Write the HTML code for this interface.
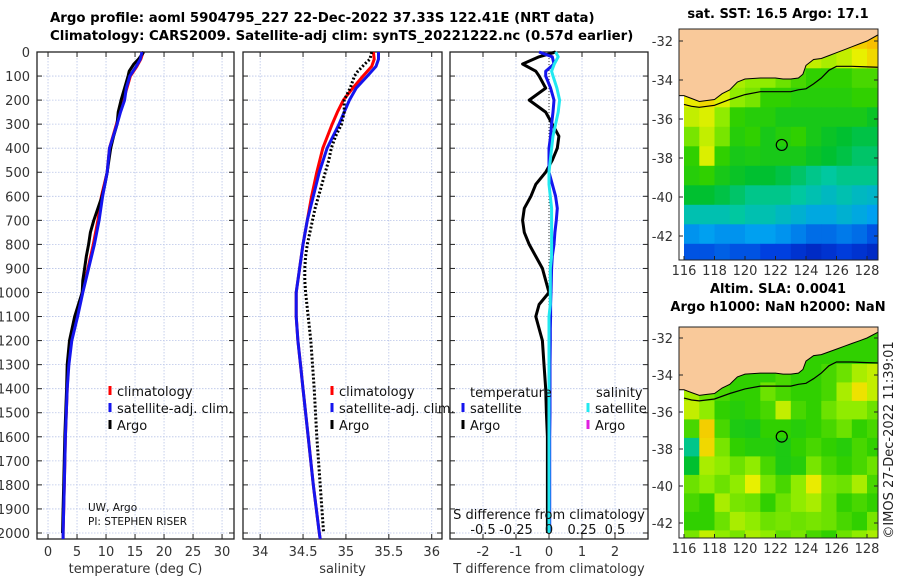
<!DOCTYPE html>
<html><head><meta charset="utf-8"><style>
body{margin:0;background:#fff;width:900px;height:580px;overflow:hidden;font-family:"Liberation Sans","DejaVu Sans",sans-serif}
svg text{font-family:"DejaVu Sans","Liberation Sans",sans-serif}
</style></head><body>
<svg id="fig" width="900" height="580" viewBox="0 0 900 580" xmlns="http://www.w3.org/2000/svg">
<text x="50" y="22" font-size="13.3" font-weight="bold" fill="#000">Argo profile: aoml 5904795_227 22-Dec-2022 37.33S 122.41E (NRT data)</text>
<text x="50" y="40" font-size="13.3" font-weight="bold" fill="#000">Climatology: CARS2009. Satellite-adj clim: synTS_20221222.nc (0.57d earlier)</text>
<text x="778" y="18" font-size="13" font-weight="bold" text-anchor="middle">sat. SST: 16.5 Argo: 17.1</text>
<text x="778" y="293" font-size="13" font-weight="bold" text-anchor="middle">Altim. SLA: 0.0041</text>
<text x="778" y="311" font-size="13" font-weight="bold" text-anchor="middle">Argo h1000: NaN h2000: NaN</text>
<text transform="translate(893,440) rotate(-90)" font-size="13" text-anchor="middle" fill="#222">©IMOS 27-Dec-2022 11:39:01</text>
<g id="g"></g>
</svg>
<script>
// ---- profile data ----
const tDepth = [0,30,60,100,150,200,250,300,400,500,600,700,800,900,1000,1100,1200,1300,1400,1600,1800,2000,2025];
const tClim  = [16.4,16,15.3,14.2,13.6,13.0,12.4,11.8,10.6,10.2,9.2,8.6,7.8,6.9,5.9,5.0,4.0,3.5,3.3,3.0,2.8,2.6,2.6];
const tSat   = [16.2,15.9,15.2,14.1,13.5,13.2,12.5,11.9,10.6,10.2,9.4,8.8,8.0,7.0,6.0,5.1,4.1,3.6,3.3,3.0,2.8,2.6,2.6];
const argoDepth = [0,30,50,80,100,150,200,250,300,350,400,450,500,550,600,650,700,750,800,850,900,950,1000,1100,1200,1300,1400,1600,1800,2000];
const tArgo  = [16.5,15.6,14.8,14.0,13.8,13.2,12.6,12.1,11.9,11.3,10.8,10.5,10.2,9.8,9.3,8.6,7.9,7.3,7.0,6.6,6.3,6.0,5.9,4.6,3.7,3.3,3.2,2.9,2.7,2.5];
const sClim  = [35.32,35.33,35.3,35.2,35.08,34.97,34.9,34.84,34.73,34.66,34.6,34.55,34.5,34.46,34.42,34.42,34.44,34.47,34.5,34.56,34.62,34.69,34.7];
const sSat   = [35.38,35.38,35.35,35.25,35.12,35.04,34.98,34.92,34.78,34.69,34.62,34.55,34.5,34.46,34.42,34.42,34.44,34.47,34.5,34.56,34.62,34.69,34.7];
const sArgo  = [35.3,35.28,35.22,35.14,35.1,35.05,34.98,34.98,34.95,34.88,34.83,34.8,34.76,34.72,34.68,34.64,34.61,34.58,34.55,34.53,34.52,34.52,34.53,34.56,34.59,34.61,34.63,34.66,34.7,34.74];
// ---- difference data ----
const dDepth = [0,20,50,80,100,150,200,250,300,350,400,450,500,550,600,650,700,750,800,850,900,950,1000,1050,1100,1150,1200,1300,1400,1500,1600,1800,2000];
const dTArgo = [0.2,-0.3,-0.8,-0.4,-0.3,-0.1,-0.6,-0.1,0.1,0.3,0.25,0.1,-0.1,-0.4,-0.55,-0.75,-0.8,-0.75,-0.6,-0.4,-0.2,-0.1,0,-0.3,-0.4,-0.3,-0.2,-0.15,-0.1,-0.08,-0.05,-0.05,-0.05];
const dTSat  = [-0.3,0.1,0.15,-0.1,-0.1,0.05,0.15,0.12,0.08,0.05,0.0,0.0,0.0,0.1,0.2,0.25,0.22,0.18,0.15,0.1,0.08,0.07,0.06,0.05,0.05,0.04,0.04,0.03,0.03,0.03,0.02,0.02,0.02];
const dSSat  = [0.05,0.07,0.04,0.02,0.03,0.06,0.08,0.07,0.05,0.03,0.02,0.01,0.0,0.0,0.01,0.02,0.02,0.02,0.02,0.02,0.01,0.01,0.01,0.01,0.0,0.0,0.0,0.0,0.0,0.0,0.0,0.0,0.0];
const depthTicks = [0,100,200,300,400,500,600,700,800,900,1000,1100,1200,1300,1400,1500,1600,1700,1800,1900,2000];
const tTicks = [0,5,10,15,20,25,30];
const sTicks = [34,34.5,35,35.5,36];
const sTickLabels = ["34","34.5","35","35.5","36"];
const dTTicks = [-2,-1,0,1,2];
const dSTicks = [-0.5,-0.25,0,0.25,0.5];
const dSTickLabels = ["-0.5","-0.25","0","0.25","0.5"];
// ---- map data ----
const lonTicks = [116,118,120,122,124,126,128];
const latTicks = [-32,-34,-36,-38,-40,-42];
const coastLon = [116,116.5,117,117.5,118,118.5,119,119.5,120,121,122,122.5,123,123.5,123.8,124,124.5,125,125.5,126,126.5,127,127.5,128,128.8];
const coastLat = [-34.8,-34.95,-35.1,-35.05,-35.0,-34.7,-34.5,-34.1,-33.95,-33.9,-33.9,-33.95,-33.95,-33.9,-33.7,-33.25,-32.95,-32.9,-32.75,-32.6,-32.45,-32.3,-32.15,-32.0,-31.65];
const isoLon = [116,116.5,117,118,119,120,121,122,123,123.5,124,124.5,125,125.5,126,126.5,127,128,128.8];
const isoLat = [-35.25,-35.35,-35.4,-35.3,-35.0,-34.75,-34.6,-34.6,-34.6,-34.5,-34.45,-34.2,-33.9,-33.5,-33.3,-33.3,-33.3,-33.33,-33.35];
const argoLon = 122.41, argoLat = -37.33;
const gridLon0 = 116, gridLat0 = -31.4;
const sstGrid = [
 [.75,.75,.75,.75,.75,.75,.75,.75,.75,.78,.8,.82,.85],
 [.75,.75,.75,.75,.75,.75,.75,.75,.72,.7,.72,.75,.8],
 [.75,.75,.72,.7,.68,.68,.65,.62,.6,.6,.6,.62,.62],
 [.76,.8,.74,.68,.66,.6,.6,.58,.58,.58,.58,.6,.6],
 [.72,.74,.68,.6,.58,.58,.55,.55,.55,.55,.55,.55,.52],
 [.66,.72,.66,.58,.6,.55,.58,.6,.55,.52,.5,.48,.48],
 [.6,.74,.6,.55,.56,.55,.55,.55,.52,.5,.48,.45,.45],
 [.58,.6,.55,.52,.5,.5,.48,.45,.42,.4,.42,.42,.42],
 [.5,.5,.48,.45,.42,.42,.42,.4,.38,.36,.38,.36,.35],
 [.38,.38,.38,.4,.38,.38,.36,.34,.32,.32,.34,.32,.3],
 [.28,.3,.28,.28,.3,.3,.28,.25,.22,.22,.24,.22,.18],
 [.18,.18,.2,.18,.18,.15,.15,.12,.1,.12,.14,.12,.1]];
const slaGrid = [
 [.6,.6,.6,.6,.6,.6,.6,.6,.6,.6,.6,.6,.6],
 [.6,.6,.6,.6,.6,.6,.6,.6,.6,.6,.6,.6,.6],
 [.65,.62,.6,.6,.6,.6,.62,.6,.6,.62,.65,.7,.72],
 [.7,.65,.62,.6,.6,.65,.62,.6,.6,.62,.7,.78,.72],
 [.72,.68,.6,.58,.6,.62,.72,.62,.6,.65,.68,.68,.65],
 [.62,.82,.62,.56,.55,.6,.6,.58,.6,.62,.65,.6,.62],
 [.42,.8,.66,.6,.58,.58,.56,.6,.62,.6,.58,.62,.6],
 [.5,.7,.68,.65,.68,.62,.56,.58,.66,.62,.6,.62,.65],
 [.65,.68,.65,.68,.75,.66,.62,.68,.76,.66,.65,.7,.62],
 [.62,.6,.7,.66,.65,.6,.65,.68,.7,.65,.6,.62,.6],
 [.6,.6,.65,.7,.68,.65,.66,.65,.66,.65,.62,.6,.66],
 [.66,.72,.68,.66,.7,.68,.64,.66,.62,.6,.65,.68,.7]];

const NS='http://www.w3.org/2000/svg';
const root=document.getElementById('g');
function el(tag,attrs,parent,txt){const e=document.createElementNS(NS,tag);for(const k in attrs)e.setAttribute(k,attrs[k]);if(txt!==undefined)e.textContent=txt;(parent||root).appendChild(e);return e;}
const TOP=52,BOT=539,D0=0,D1=2025;
const yD=d=>TOP+(d-D0)/(D1-D0)*(BOT-TOP);
function lin(d0,d1,r0,r1){return v=>r0+(v-d0)/(d1-d0)*(r1-r0);}

function panel(name,x0,x1,xs,ticks,labels,xtitle,showDepth){
  const g=el('g',{});
  
  
  ticks.forEach(t=>{const l=el('line',{x1:xs(t),x2:xs(t),y1:TOP,y2:BOT,stroke:'#b8c4e8','stroke-width':0.8,'stroke-dasharray':'1.5,1.5'},g);});
  depthTicks.forEach(d=>{const l=el('line',{x1:x0,x2:x1,y1:yD(d),y2:yD(d),stroke:'#b8c4e8','stroke-width':0.8,'stroke-dasharray':'1.5,1.5'},g);
    el('line',{x1:x0,x2:x0+5,y1:yD(d),y2:yD(d),stroke:'#222'},g);el('line',{x1:x1-5,x2:x1,y1:yD(d),y2:yD(d),stroke:'#222'},g);
    if(showDepth){const t=el('text',{x:x0-7,y:yD(d)+5,'font-size':13,'text-anchor':'end',fill:'#333'},g,String(d));}});
  ticks.forEach((t,i)=>{el('line',{x1:xs(t),x2:xs(t),y1:BOT,y2:BOT-5,stroke:'#222'},g);el('line',{x1:xs(t),x2:xs(t),y1:TOP,y2:TOP+5,stroke:'#222'},g);
    if(labels){const tx=el('text',{x:xs(t),y:556,'font-size':13,'text-anchor':'middle',fill:'#333'},g,labels[i]);}});
  el('rect',{x:x0,y:TOP,width:x1-x0,height:BOT-TOP,fill:'none',stroke:'#222','stroke-width':1.3},g);
  const tt=el('text',{x:(x0+x1)/2,y:573,'font-size':13,'text-anchor':'middle',fill:'#333'},g,xtitle);
  
  return g;
}
function line(xs,xv,dv,color,w,name,dash){
  const pts=xv.map((v,i)=>xs(v).toFixed(1)+','+yD(dv[i]).toFixed(1)).join(' ');
  const p=el('polyline',{points:pts,fill:'none',stroke:color,'stroke-width':w,'stroke-linejoin':'round'});
  if(dash)p.setAttribute('stroke-dasharray',dash);
  
}
function legend(x,y,color,label,name){
  const g=el('g',{});
  el('line',{x1:x,x2:x,y1:y-10,y2:y-1,stroke:color,'stroke-width':3},g);
  el('text',{x:x+7,y:y,'font-size':13,fill:'#111'},g,label);
}
// panel 1 temperature
const xT=lin(-1.9,32.06,37,234);
panel('temperature-panel',37,234,xT,tTicks,tTicks.map(String),'temperature (deg C)',true);
line(xT,tClim,tDepth,'#f00',3,'temp-climatology-line');
line(xT,tArgo,argoDepth,'#000',3,'temp-argo-line');
line(xT,tSat,tDepth,'#1515ee',3,'temp-satellite-line');
legend(110,396,'#f00','climatology','legend-climatology');
legend(110,413,'#1515ee','satellite-adj. clim.','legend-satellite');
legend(110,430,'#000','Argo','legend-argo');
el('text',{x:88,y:511,'font-size':10.5,fill:'#111'},null,'UW, Argo');
el('text',{x:88,y:525,'font-size':10.5,fill:'#111'},null,'PI: STEPHEN RISER');
// panel 2 salinity
const xS=lin(33.8,36.12,243,442);
panel('salinity-panel',243,442,xS,sTicks,sTickLabels,'salinity',false);
line(xS,sClim,tDepth,'#f00',3,'sal-climatology-line');
line(xS,sSat,tDepth,'#1515ee',3,'sal-satellite-line');
line(xS,sArgo,argoDepth,'#000',3,'sal-argo-line','2,2');
legend(332,396,'#f00','climatology','legend-climatology-s');
legend(332,413,'#1515ee','satellite-adj. clim.','legend-satellite-s');
legend(332,430,'#000','Argo','legend-argo-s');
// panel 3 differences
const xDT=lin(-3,3,450,648), xDS=lin(-0.75,0.75,450,648);
panel('difference-panel',450,648,xDT,dTTicks,dTTicks.map(String),'T difference from climatology',false);
el('line',{x1:xDT(0),x2:xDT(0),y1:TOP,y2:BOT,stroke:'#333','stroke-width':1,'stroke-dasharray':'1,2'});
line(xDT,dTArgo,dDepth,'#000',3,'tdiff-argo-line');
line(xDT,dTSat,dDepth,'#1515ee',3,'tdiff-satellite-line');
line(xDS,dSSat,dDepth,'#22e8f0',3,'sdiff-satellite-line');
el('text',{x:470,y:397,'font-size':13,fill:'#111'},null,'temperature');
el('text',{x:596,y:397,'font-size':13,fill:'#111'},null,'salinity');
legend(463,413,'#1515ee','satellite','legend-t-satellite');
legend(463,430,'#000','Argo','legend-t-argo');
legend(588,413,'#22e8f0','satellite','legend-s-satellite');
legend(588,430,'#e020e0','Argo','legend-s-argo');
el('text',{x:549,y:519,'font-size':13,'text-anchor':'middle',fill:'#111'},null,'S difference from climatology');
dSTicks.forEach((t,i)=>{const tx=el('text',{x:xDS(t),y:534,'font-size':13,'text-anchor':'middle',fill:'#111'},null,dSTickLabels[i]);});

// maps
const stops=[[0,[0,0,144]],[.15,[0,64,224]],[.3,[0,160,240]],[.4,[0,200,160]],[.5,[0,192,48]],[.6,[48,208,0]],[.68,[144,236,0]],[.75,[232,240,0]],[.85,[248,192,0]],[1,[240,128,0]]];
function cmap(v){for(let i=1;i<stops.length;i++){if(v<=stops[i][0]){const a=stops[i-1],b=stops[i],f=(v-a[0])/(b[0]-a[0]);return 'rgb('+a[1].map((c,k)=>Math.round(c+f*(b[1][k]-c))).join(',')+')';}}return 'rgb(240,128,0)';}
function map(name,top,bot,y32,y42,grid){
  const X0=679,X1=878;
  const xl=lin(116,128,684,867), ylat=lin(-32,-42,y32,y42);
  const g=el('g',{});
  const cid='clip'+name;const cp=el('clipPath',{id:cid},g);el('rect',{x:X0,y:top,width:X1-X0,height:bot-top},cp);
  const cells=el('g',{'clip-path':'url(#'+cid+')'},g);
  grid.forEach((row,r)=>row.forEach((v,c)=>{
    const x=xl(gridLon0+c),y=ylat(gridLat0-r);
    const rc=el('rect',{x:x.toFixed(1),y:y.toFixed(1),width:(xl(gridLon0+c+1)-x+0.6).toFixed(1),height:(ylat(gridLat0-r-1)-y+0.6).toFixed(1),fill:cmap(v)},cells);
    
  }));
  let land='M'+X0+','+top+' L'+X1+','+top+' ';
  for(let i=coastLon.length-1;i>=0;i--)land+='L'+xl(coastLon[i]).toFixed(1)+','+ylat(coastLat[i]).toFixed(1)+' ';
  land+='L'+X0+','+ylat(coastLat[0]).toFixed(1)+'Z';
  const lp=el('path',{d:land,fill:'#f9c99a',stroke:'#000','stroke-width':1},cells);
  const iso=el('polyline',{points:isoLon.map((v,i)=>xl(v).toFixed(1)+','+ylat(isoLat[i]).toFixed(1)).join(' '),fill:'none',stroke:'#000','stroke-width':1.2},cells);
  
  const ci=el('circle',{cx:xl(argoLon),cy:ylat(argoLat),r:5.5,fill:'none',stroke:'#000','stroke-width':1.2},g);
  
  el('rect',{x:X0,y:top,width:X1-X0,height:bot-top,fill:'none',stroke:'#222','stroke-width':1},g);
  lonTicks.forEach(t=>{el('line',{x1:xl(t),x2:xl(t),y1:bot,y2:bot-4,stroke:'#222'},g);
    const tx=el('text',{x:xl(t),y:bot+15,'font-size':13,'text-anchor':'middle',fill:'#333'},g,String(t));});
  latTicks.forEach(t=>{el('line',{x1:X0,x2:X0+4,y1:ylat(t),y2:ylat(t),stroke:'#222'},g);el('line',{x1:X1,x2:X1-4,y1:ylat(t),y2:ylat(t),stroke:'#222'},g);
    const tx=el('text',{x:X0-6,y:ylat(t)+5,'font-size':13,'text-anchor':'end',fill:'#333'},g,String(t));});
}
map('sst-map',29,260,41,236,sstGrid);
map('sla-map',327,538,338,523,slaGrid);
</script>
</body></html>
